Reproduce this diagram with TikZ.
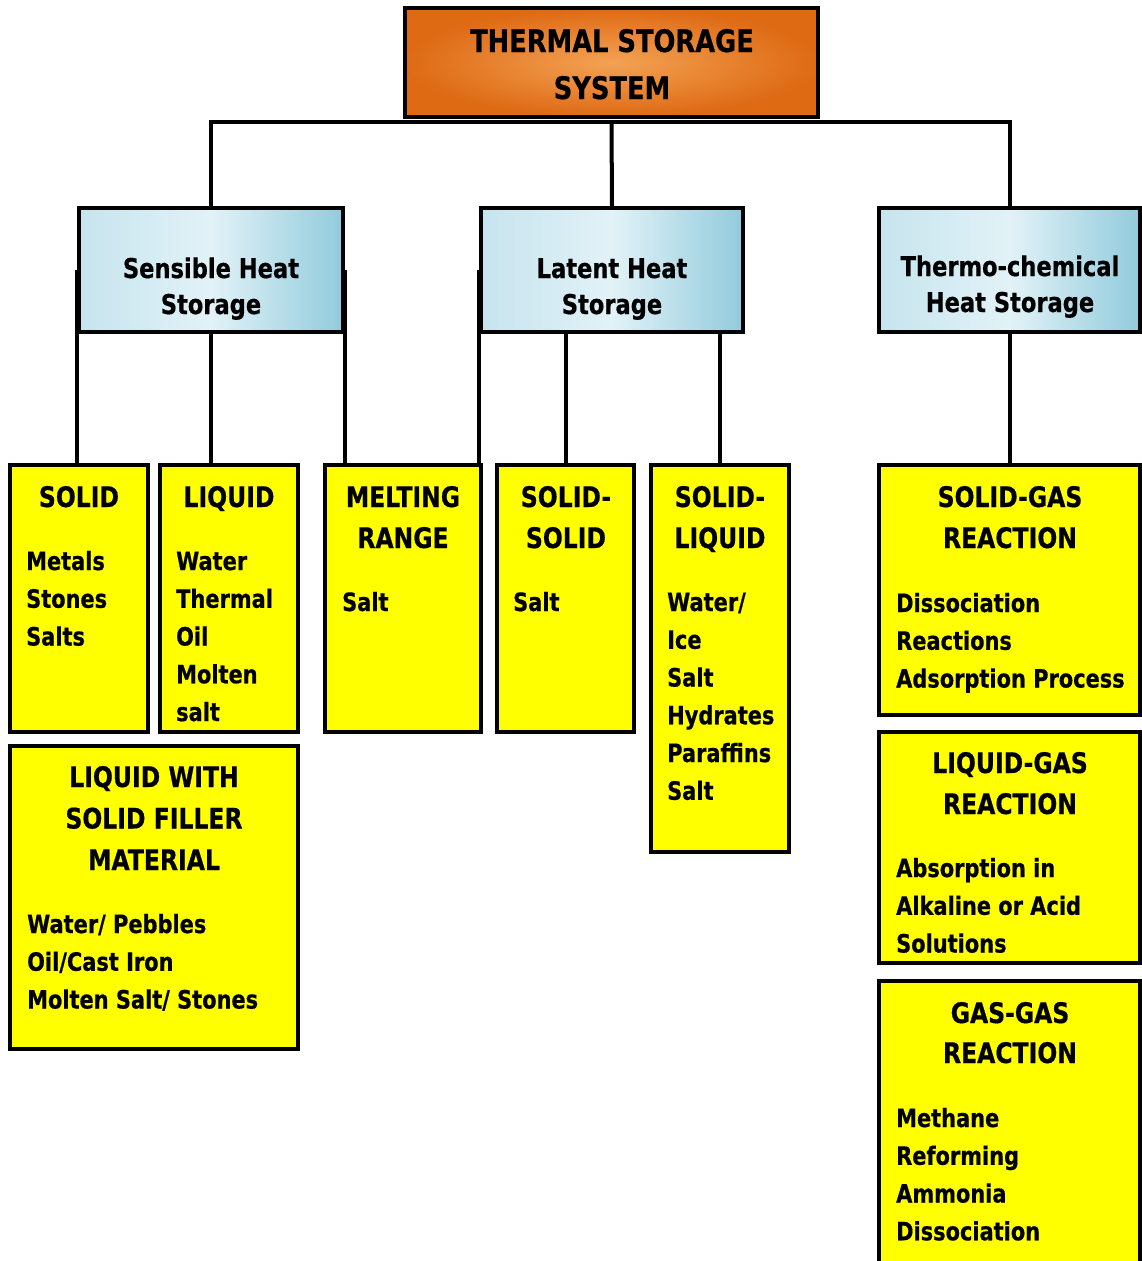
\documentclass[tikz,border=0pt]{standalone}
\usepackage{fontspec}
\setmainfont{DejaVu Sans}[FakeStretch=0.83, BoldFeatures={FakeBold=0.6}]
\usetikzlibrary{calc}

\definecolor{orgEdge}{RGB}{222,106,20}
\definecolor{orgMid}{RGB}{243,162,84}
\definecolor{bluL}{RGB}{198,228,238}
\definecolor{bluM}{RGB}{226,242,247}
\definecolor{bluD}{RGB}{146,203,220}
\definecolor{yel}{RGB}{255,255,0}

\tikzset{
  box/.style={rectangle, draw=black, line width=3.5pt, inner sep=0pt},
  ybox/.style={box, fill=yel},
  bbox/.style={box, left color=bluL, right color=bluD, middle color=bluM},
  obox/.style={box, inner color=orgMid, outer color=orgEdge},
  wire/.style={line width=4pt, draw=black},
  toptxt/.style={font=\bfseries\fontsize{31}{47}\selectfont, anchor=base, inner sep=0pt},
  cattxt/.style={font=\bfseries\fontsize{27.2}{36}\selectfont, anchor=base, inner sep=0pt},
  ttl/.style={font=\bfseries\fontsize{28.3}{41}\selectfont, anchor=base, inner sep=0pt},
  itm/.style={font=\bfseries\fontsize{25.2}{38}\selectfont, anchor=base west, inner sep=0pt},
}

\begin{document}
\begin{tikzpicture}[x=1pt, y=-1pt]
\useasboundingbox (0,0) rectangle (1142,1261);
\fill[white] (0,0) rectangle (1142,1261);

% ---- boxes ----
\node[obox, minimum width=413, minimum height=109] (tss) at (611.5,62.5) {};

\node[bbox, minimum width=264, minimum height=124] (sens)  at (211,270) {};
\node[bbox, minimum width=262, minimum height=124] (lat)   at (612,270) {};
\node[bbox, minimum width=261, minimum height=124] (therm) at (1009.5,270) {};

\node[ybox, minimum width=138, minimum height=267] (solid)  at (79,598.5) {};
\node[ybox, minimum width=138, minimum height=267] (liquid) at (229,598.5) {};
\node[ybox, minimum width=156, minimum height=267] (melt)   at (403,598.5) {};
\node[ybox, minimum width=137, minimum height=267] (ss)     at (565.5,598.5) {};
\node[ybox, minimum width=138, minimum height=387] (sl)     at (720,658.5) {};
\node[ybox, minimum width=288, minimum height=303] (lwsf)   at (154,897.5) {};
\node[ybox, minimum width=261, minimum height=250] (sg)     at (1009.5,590) {};
\node[ybox, minimum width=261, minimum height=231] (lg)     at (1009.5,847.5) {};
\node[ybox, minimum width=261, minimum height=294] (gg)     at (1009.5,1128) {};

% ---- connectors ----
\coordinate (bus) at ($(tss.south)+(0,3)$);
\draw[wire] (sens.north) -- (sens.north |- bus) -- (therm.north |- bus) -- (therm.north);
\draw[wire] (bus) -- (lat.north);

\draw[wire] (sens.west) -- (sens.west |- solid.north);
\draw[wire] (sens.south) -- (sens.south |- liquid.north);
\draw[wire] (sens.east) -- (sens.east |- melt.north);

\draw[wire] (lat.west) -- (lat.west |- melt.north);
\draw[wire] (ss.north |- lat.south) -- (ss.north);
\draw[wire] (sl.north |- lat.south) -- (sl.north);

\draw[wire] (therm.south) -- (sg.north);

% ---- headings ----
\node[toptxt] (tss-1) at (612,52) {THERMAL STORAGE};
\node[toptxt] (tss-2) at (612,99) {SYSTEM};

\node[cattxt] (sens-1) at (211,278) {Sensible Heat};
\node[cattxt] (sens-2) at (211,314) {Storage};
\node[cattxt] (lat-1) at (612,278) {Latent Heat};
\node[cattxt] (lat-2) at (612,314) {Storage};
\node[cattxt] (therm-1) at (1010,276) {Thermo-chemical};
\node[cattxt] (therm-2) at (1010,312) {Heat Storage};

% ---- box titles ----
\foreach \t [count=\i] in {SOLID}
  \node[ttl] (solid-t\i) at (79,{507+(\i-1)*41}) {\t};
\foreach \t [count=\i] in {LIQUID}
  \node[ttl] (liquid-t\i) at (229,{507+(\i-1)*41}) {\t};
\foreach \t [count=\i] in {MELTING,RANGE}
  \node[ttl] (melt-t\i) at (403,{507+(\i-1)*41}) {\t};
\foreach \t [count=\i] in {SOLID-,SOLID}
  \node[ttl] (ss-t\i) at (566,{507+(\i-1)*41}) {\t};
\foreach \t [count=\i] in {SOLID-,LIQUID}
  \node[ttl] (sl-t\i) at (720,{507+(\i-1)*41}) {\t};
\foreach \t [count=\i] in {LIQUID WITH,SOLID FILLER,MATERIAL}
  \node[ttl] (lwsf-t\i) at (154,{787+(\i-1)*41.5}) {\t};
\foreach \t [count=\i] in {SOLID-GAS,REACTION}
  \node[ttl] (sg-t\i) at (1010,{507+(\i-1)*41}) {\t};
\foreach \t [count=\i] in {LIQUID-GAS,REACTION}
  \node[ttl] (lg-t\i) at (1010,{773+(\i-1)*41}) {\t};
\foreach \t [count=\i] in {GAS-GAS,REACTION}
  \node[ttl] (gg-t\i) at (1010,{1023+(\i-1)*40}) {\t};

% ---- box items ----
\foreach \t [count=\i] in {Metals,Stones,Salts}
  \node[itm] (solid-\i) at (26,{570+(\i-1)*37.75}) {\t};
\foreach \t [count=\i] in {Water,Thermal,Oil,Molten,salt}
  \node[itm] (liquid-\i) at (176,{570+(\i-1)*37.75}) {\t};
\node[itm] (melt-1) at (342,611) {Salt};
\node[itm] (ss-1) at (513,611) {Salt};
\foreach \t [count=\i] in {Water/,Ice,Salt,Hydrates,Paraffins,Salt}
  \node[itm] (sl-\i) at (667,{611+(\i-1)*37.75}) {\t};
\foreach \t [count=\i] in {Water/ Pebbles,Oil/Cast Iron,Molten Salt/ Stones}
  \node[itm] (lwsf-\i) at (27,{933+(\i-1)*37.75}) {\t};
\foreach \t [count=\i] in {Dissociation,Reactions,Adsorption Process}
  \node[itm] (sg-\i) at (896,{612+(\i-1)*37.75}) {\t};
\foreach \t [count=\i] in {Absorption in,Alkaline or Acid,Solutions}
  \node[itm] (lg-\i) at (896,{877+(\i-1)*37.75}) {\t};
\foreach \t [count=\i] in {Methane,Reforming,Ammonia,Dissociation}
  \node[itm] (gg-\i) at (896,{1127+(\i-1)*37.75}) {\t};
\end{tikzpicture}
\end{document}
